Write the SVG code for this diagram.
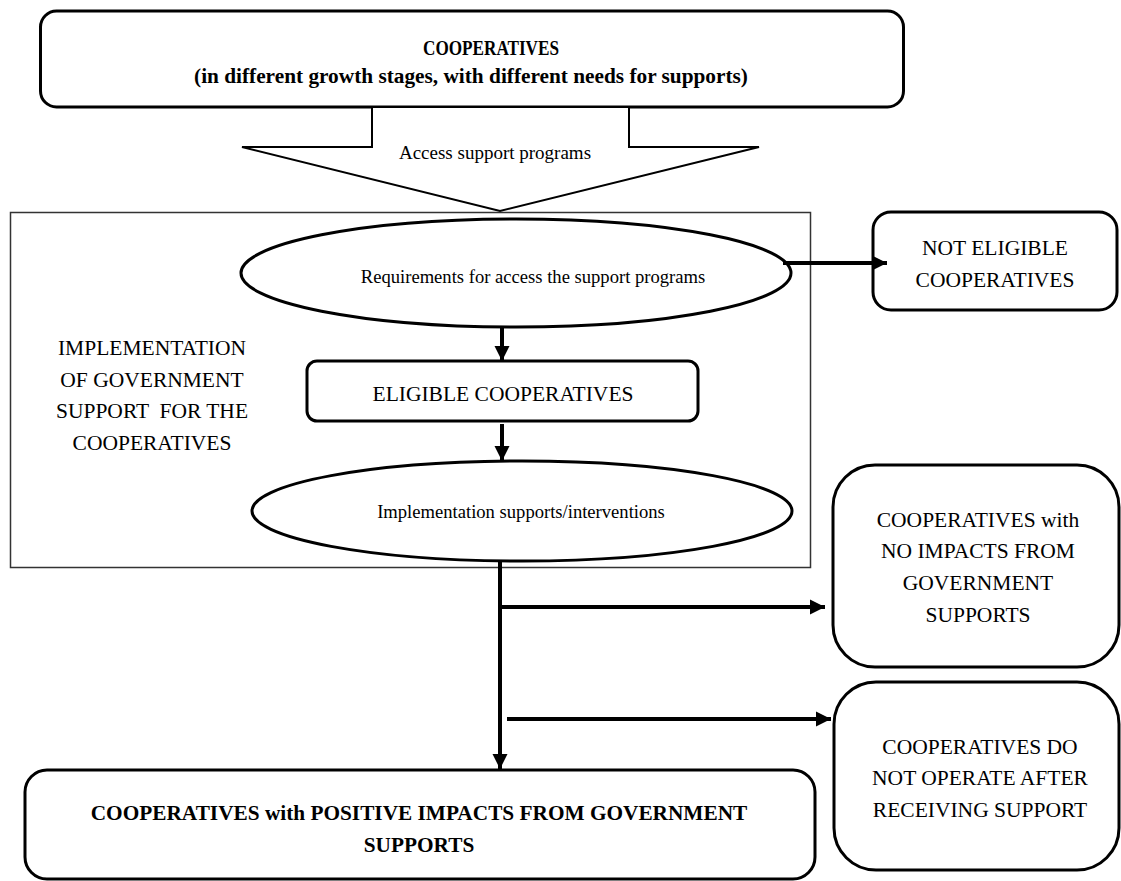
<svg xmlns="http://www.w3.org/2000/svg" width="1121" height="881" viewBox="0 0 1121 881">
<style>
text{font-family:"Liberation Serif","Times New Roman",serif;fill:#000;text-anchor:middle}
.b{font-weight:bold;font-size:21.3px}
.n{font-size:21.5px}
.s{font-size:18.6px}
.box{fill:#fff;stroke:#000;stroke-width:3}
.frame{fill:none;stroke:#333;stroke-width:1.5}
.conn{fill:none;stroke:#000;stroke-width:4}
</style>
<defs>
<marker id="ah" markerUnits="userSpaceOnUse" markerWidth="16" markerHeight="16" refX="15" refY="8" orient="auto">
<path d="M0,0.5 L15,8 L0,15.5 Z" fill="#000"/>
</marker>
</defs>
<rect x="0" y="0" width="1121" height="881" fill="#fff"/>

<g id="frame">
<rect class="frame" x="10.5" y="212.5" width="800" height="355"/>
<text class="n" x="152" y="355">IMPLEMENTATION</text>
<text class="n" x="152" y="387">OF GOVERNMENT</text>
<text class="n" x="152" y="418" xml:space="preserve">SUPPORT  FOR THE</text>
<text class="n" x="152" y="450">COOPERATIVES</text>
</g>

<g id="top">
<rect class="box" x="40.5" y="11" width="863" height="96" rx="16"/>
<text class="b" x="491" y="55" style="font-size:20px" textLength="136" lengthAdjust="spacingAndGlyphs">COOPERATIVES</text>
<text class="b" x="471" y="83">(in different growth stages, with different needs for supports)</text>
</g>

<g id="access">
<polygon points="372,107 372,147 242,147 500,211 759,147 629,147 629,107" fill="#fff" stroke="#000" stroke-width="2"/>
<text x="495" y="159" style="font-size:19px">Access support programs</text>
</g>

<g id="requirements">
<ellipse class="box" cx="516" cy="273" rx="275" ry="54"/>
<text class="s" x="533" y="283">Requirements for access the support programs</text>
</g>

<g id="not-eligible">
<rect class="box" x="873" y="212" width="244" height="98" rx="18"/>
<text class="n" x="995" y="255">NOT ELIGIBLE</text>
<text class="n" x="995" y="287">COOPERATIVES</text>
</g>

<g id="eligible">
<rect class="box" x="307" y="361" width="391" height="60" rx="10"/>
<text class="n" x="503" y="401">ELIGIBLE COOPERATIVES</text>
</g>

<g id="implementation">
<ellipse class="box" cx="522" cy="511" rx="270" ry="50"/>
<text class="s" x="521" y="518">Implementation supports/interventions</text>
</g>

<g id="no-impacts">
<rect class="box" x="833" y="465" width="286" height="202" rx="42"/>
<text class="n" x="978" y="527">COOPERATIVES with</text>
<text class="n" x="978" y="558">NO IMPACTS FROM</text>
<text class="n" x="978" y="590">GOVERNMENT</text>
<text class="n" x="978" y="622">SUPPORTS</text>
</g>

<g id="not-operate">
<rect class="box" x="834" y="682" width="285" height="188" rx="42"/>
<text class="n" x="980" y="754">COOPERATIVES DO</text>
<text class="n" x="980" y="785">NOT OPERATE AFTER</text>
<text class="n" x="980" y="817">RECEIVING SUPPORT</text>
</g>

<g id="positive">
<rect class="box" x="25" y="770" width="790" height="109" rx="22"/>
<text class="b" x="419" y="820">COOPERATIVES with POSITIVE IMPACTS FROM GOVERNMENT</text>
<text class="b" x="419" y="852">SUPPORTS</text>
</g>

<g id="connectors">
<line class="conn" x1="783" y1="263" x2="887" y2="263" marker-end="url(#ah)"/>
<line class="conn" x1="502" y1="328" x2="502" y2="361" marker-end="url(#ah)"/>
<line class="conn" x1="502" y1="424" x2="502" y2="461" marker-end="url(#ah)"/>
<line class="conn" x1="500" y1="561" x2="500" y2="769" marker-end="url(#ah)"/>
<line class="conn" x1="500" y1="607" x2="825" y2="607" marker-end="url(#ah)"/>
<line class="conn" x1="507" y1="719" x2="831" y2="719" marker-end="url(#ah)"/>
</g>
</svg>
